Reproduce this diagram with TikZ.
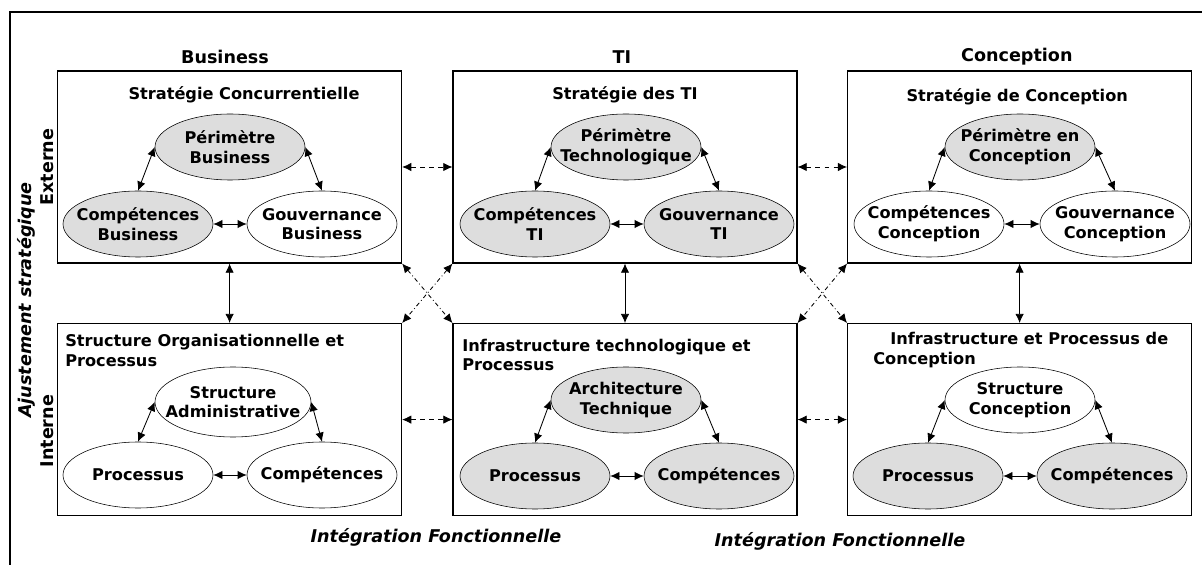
\documentclass[tikz,border=0pt]{standalone}
\usepackage{fontspec}
\setmainfont{DejaVu Sans}
\usetikzlibrary{shapes.geometric, arrows.meta, positioning}
\definecolor{ovalgray}{RGB}{221, 221, 221}

\begin{document}
\begin{tikzpicture}[
        >={Latex[length=6.5pt, width=6pt]},
        panel/.style={draw, thick, minimum width=8.6cm, minimum height=4.8cm},
        oval/.style={ellipse, draw, fill=white, minimum width=3.75cm, minimum height=1.65cm, inner xsep=-4mm, inner ysep=0pt, align=center, font=\fontsize{11.5}{14}\selectfont\bfseries},
        shaded/.style={oval, fill=ovalgray},
        ptitle/.style={font=\fontsize{11.5}{14}\selectfont\bfseries, inner sep=0pt},
        head/.style={font=\fontsize{12.5}{15}\selectfont\bfseries, inner sep=0pt},
        axis/.style={font=\fontsize{12.5}{15}\selectfont\bfseries\itshape, inner sep=0pt},
        link/.style={<->, semithick},
        peer/.style={<->, semithick, dash pattern=on 3.5pt off 3pt},
        cross/.style={<->, semithick, dashdotted}
    ]
        \useasboundingbox (0,0) rectangle (30.05,-14.125);

        % open frame round the whole model
        \draw[thick] (0.25,-14.125) -- (0.25,-0.3) -- (30.05,-0.3);

        % the six domains
        \node[panel] (busext) at (5.74, -4.175) {};
        \node[panel] (tiext) at (15.625, -4.175) {};
        \node[panel] (conext) at (25.49, -4.175) {};
        \node[panel] (busint) at (5.74, -10.49) {};
        \node[panel] (tiint) at (15.625, -10.49) {};
        \node[panel] (conint) at (25.49, -10.49) {};

        % column and row headings
        \node[head] (hbus) at (5.625, -1.425) {Business};
        \node[head] (hti) at (15.55, -1.425) {TI};
        \node[head] (hcon) at (25.42, -1.425) {Conception};
        \node[head, rotate=90] (hext) at (1.175, -4.175) {Externe};
        \node[head, rotate=90] (hint) at (1.175, -10.78) {Interne};
        \node[axis, rotate=90] (ajust) at (0.65, -7.5) {Ajustement stratégique};
        \node[axis] (integ1) at (10.9, -13.425) {Intégration Fonctionnelle};
        \node[axis] (integ2) at (21.0, -13.525) {Intégration Fonctionnelle};

        % domain titles
        \node[ptitle] (tbusext) at (6.1, -2.375) {Stratégie Concurrentielle};
        \node[ptitle] (ttiext) at (15.625, -2.375) {Stratégie des TI};
        \node[ptitle] (tconext) at (25.43, -2.42) {Stratégie de Conception};
        \node[ptitle, align=left, anchor=west] (tbusint) at (1.625, -8.76) {Structure Organisationnelle et\\Processus};
        \node[ptitle, align=left, anchor=west] (ttiint) at (11.55, -8.875) {Infrastructure technologique et\\Processus};
        \node[ptitle, align=left, anchor=west] (tconint) at (21.825, -8.75) {\hspace*{0.425cm}Infrastructure et Processus de\\Conception};

        % Business / externe
        \node[shaded] (pbus) at (5.75, -3.675) {Périmètre\\Business};
        \node[shaded] (cbus) at (3.45, -5.6) {Compétences\\Business};
        \node[oval] (gbus) at (8.05, -5.6) {Gouvernance\\Business};

        % TI / externe
        \node[shaded] (pti) at (15.65, -3.675) {Périmètre\\Technologique};
        \node[shaded] (cti) at (13.375, -5.6) {Compétences\\TI};
        \node[shaded] (gti) at (17.975, -5.6) {Gouvernance\\TI};

        % Conception / externe
        \node[shaded] (pcon) at (25.5, -3.675) {Périmètre en\\Conception};
        \node[oval] (ccon) at (23.225, -5.6) {Compétences\\Conception};
        \node[oval] (gcon) at (27.875, -5.6) {Gouvernance\\Conception};

        % Business / interne
        \node[oval, minimum width=3.9cm, minimum height=1.75cm] (sadm) at (5.825, -10.05) {Structure\\Administrative};
        \node[oval] (procbus) at (3.45, -11.875) {Processus};
        \node[oval] (compbus) at (8.05, -11.875) {Compétences};

        % TI / interne
        \node[shaded] (arch) at (15.65, -10.0) {Architecture\\Technique};
        \node[shaded] (procti) at (13.375, -11.9) {Processus};
        \node[shaded] (compti) at (17.975, -11.9) {Compétences};

        % Conception / interne
        \node[oval] (scon) at (25.5, -10.0) {Structure\\Conception};
        \node[shaded] (proccon) at (23.2, -11.9) {Processus};
        \node[shaded] (compcon) at (27.8, -11.9) {Compétences};

        % links inside each domain
        \draw[link] (pbus.west) -- (cbus.north);
        \draw[link] (pbus.east) -- (gbus.north);
        \draw[link] (cbus.east) -- (gbus.west);
        \draw[link] (pti.west) -- (cti.north);
        \draw[link] (pti.east) -- (gti.north);
        \draw[link] (cti.east) -- (gti.west);
        \draw[link] (pcon.west) -- (ccon.north);
        \draw[link] (pcon.east) -- (gcon.north);
        \draw[link] (ccon.east) -- (gcon.west);
        \draw[link] (sadm.west) -- (procbus.north);
        \draw[link] (sadm.east) -- (compbus.north);
        \draw[link] (procbus.east) -- (compbus.west);
        \draw[link] (arch.west) -- (procti.north);
        \draw[link] (arch.east) -- (compti.north);
        \draw[link] (procti.east) -- (compti.west);
        \draw[link] (scon.west) -- (proccon.north);
        \draw[link] (scon.east) -- (compcon.north);
        \draw[link] (proccon.east) -- (compcon.west);

        % strategic fit, external to internal
        \draw[link] (busext.south) -- (busint.north);
        \draw[link] (tiext.south) -- (tiint.north);
        \draw[link] (conext.south) -- (conint.north);

        % functional integration
        \draw[peer] (busext.east) -- (tiext.west);
        \draw[peer] (tiext.east) -- (conext.west);
        \draw[peer] (busint.east) -- (tiint.west);
        \draw[peer] (tiint.east) -- (conint.west);

        % cross-domain links
        \draw[cross] (busext.south east) -- (tiint.north west);
        \draw[cross] (tiext.south west) -- (busint.north east);
        \draw[cross] (tiext.south east) -- (conint.north west);
        \draw[cross] (conext.south west) -- (tiint.north east);
    \end{tikzpicture}
\end{document}
